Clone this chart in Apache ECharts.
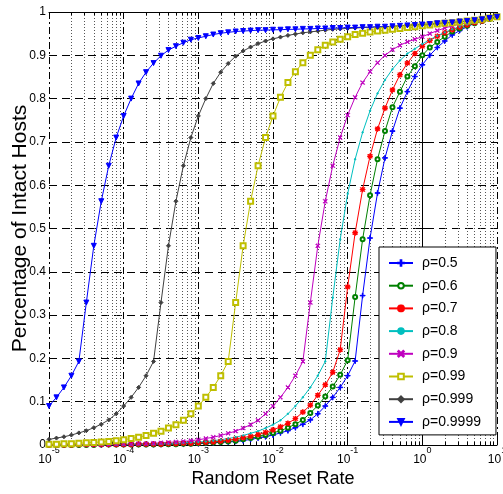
<!DOCTYPE html>
<html>
<head>
<meta charset="utf-8">
<script src="https://cdn.jsdelivr.net/npm/echarts@6/dist/echarts.min.js"></script>
<style>
  html, body { margin: 0; padding: 0; background: #fff; }
  #chart { width: 503px; height: 494px; }
</style>
</head>
<body>
<div id="chart"></div>
<script>
// x values: random reset rate, 10 points per decade
const rates = [
  1e-5, 1.259e-5, 1.585e-5, 1.995e-5, 2.512e-5, 3.162e-5, 3.981e-5, 5.012e-5, 6.31e-5, 7.943e-5,
  1e-4, 1.259e-4, 1.585e-4, 1.995e-4, 2.512e-4, 3.162e-4, 3.981e-4, 5.012e-4, 6.31e-4, 7.943e-4,
  1e-3, 1.259e-3, 1.585e-3, 1.995e-3, 2.512e-3, 3.162e-3, 3.981e-3, 5.012e-3, 6.31e-3, 7.943e-3,
  0.01, 0.01259, 0.01585, 0.01995, 0.02512, 0.03162, 0.03981, 0.05012, 0.0631, 0.07943,
  0.1, 0.1259, 0.1585, 0.1995, 0.2512, 0.3162, 0.3981, 0.5012, 0.631, 0.7943,
  1, 1.259, 1.585, 1.995, 2.512, 3.162, 3.981, 5.012, 6.31, 7.943,
  10
]

const rho05 = [
  0.000, 0.000, 0.000, 0.000, 0.000, 0.000, 0.000, 0.000, 0.001, 0.001,
  0.001, 0.001, 0.001, 0.001, 0.001, 0.001, 0.002, 0.002, 0.002, 0.003,
  0.003, 0.004, 0.005, 0.006, 0.007, 0.008, 0.010, 0.013, 0.016, 0.019,
  0.023, 0.028, 0.033, 0.040, 0.048, 0.058, 0.072, 0.090, 0.110, 0.133,
  0.160, 0.194, 0.345, 0.478, 0.582, 0.663, 0.725, 0.778, 0.816, 0.851,
  0.878, 0.900, 0.918, 0.933, 0.947, 0.957, 0.966, 0.974, 0.980, 0.985,
  0.989
]
const rho06 = [
  0.000, 0.000, 0.000, 0.000, 0.000, 0.000, 0.000, 0.001, 0.001, 0.001,
  0.001, 0.001, 0.001, 0.001, 0.001, 0.002, 0.002, 0.002, 0.003, 0.003,
  0.004, 0.005, 0.006, 0.007, 0.008, 0.010, 0.013, 0.016, 0.019, 0.023,
  0.028, 0.033, 0.040, 0.048, 0.058, 0.074, 0.091, 0.112, 0.135, 0.162,
  0.196, 0.342, 0.475, 0.577, 0.660, 0.725, 0.780, 0.816, 0.851, 0.875,
  0.900, 0.918, 0.931, 0.943, 0.955, 0.962, 0.968, 0.974, 0.979, 0.984,
  0.989
]
const rho07 = [
  0.000, 0.000, 0.000, 0.000, 0.001, 0.001, 0.001, 0.001, 0.001, 0.001,
  0.001, 0.001, 0.002, 0.002, 0.002, 0.002, 0.003, 0.003, 0.004, 0.004,
  0.005, 0.006, 0.007, 0.009, 0.011, 0.014, 0.017, 0.020, 0.024, 0.029,
  0.035, 0.042, 0.050, 0.061, 0.076, 0.092, 0.115, 0.139, 0.168, 0.220,
  0.365, 0.490, 0.590, 0.667, 0.730, 0.778, 0.820, 0.855, 0.882, 0.904,
  0.921, 0.934, 0.944, 0.952, 0.959, 0.965, 0.970, 0.975, 0.979, 0.984,
  0.989
]
const rho08 = [
  0.000, 0.000, 0.000, 0.000, 0.001, 0.001, 0.001, 0.001, 0.001, 0.001,
  0.001, 0.001, 0.002, 0.002, 0.002, 0.003, 0.003, 0.004, 0.005, 0.006,
  0.007, 0.008, 0.010, 0.012, 0.015, 0.018, 0.022, 0.027, 0.032, 0.039,
  0.047, 0.057, 0.072, 0.090, 0.110, 0.133, 0.160, 0.193, 0.340, 0.475,
  0.580, 0.660, 0.722, 0.772, 0.812, 0.843, 0.868, 0.888, 0.904, 0.915,
  0.926, 0.936, 0.945, 0.953, 0.960, 0.966, 0.971, 0.975, 0.980, 0.984,
  0.988
]
const rho09 = [
  0.000, 0.000, 0.001, 0.001, 0.001, 0.001, 0.001, 0.001, 0.001, 0.002,
  0.002, 0.002, 0.003, 0.003, 0.004, 0.005, 0.006, 0.007, 0.008, 0.010,
  0.012, 0.015, 0.018, 0.022, 0.027, 0.032, 0.039, 0.047, 0.057, 0.072,
  0.090, 0.110, 0.133, 0.160, 0.193, 0.329, 0.460, 0.563, 0.645, 0.710,
  0.762, 0.803, 0.837, 0.862, 0.883, 0.900, 0.913, 0.923, 0.931, 0.937,
  0.943, 0.950, 0.957, 0.963, 0.968, 0.972, 0.975, 0.978, 0.981, 0.985,
  0.989
]
const rho099 = [
  0.002, 0.002, 0.003, 0.003, 0.004, 0.005, 0.006, 0.007, 0.008, 0.010,
  0.012, 0.015, 0.018, 0.022, 0.027, 0.032, 0.039, 0.047, 0.057, 0.072,
  0.090, 0.110, 0.133, 0.160, 0.193, 0.329, 0.460, 0.563, 0.645, 0.710,
  0.760, 0.803, 0.837, 0.862, 0.883, 0.900, 0.913, 0.923, 0.931, 0.937,
  0.943, 0.948, 0.951, 0.954, 0.956, 0.958, 0.960, 0.962, 0.964, 0.966,
  0.968, 0.970, 0.972, 0.974, 0.975, 0.977, 0.979, 0.981, 0.983, 0.986,
  0.989
]
const rho0999 = [
  0.013, 0.016, 0.019, 0.023, 0.028, 0.033, 0.040, 0.048, 0.058, 0.072,
  0.090, 0.110, 0.133, 0.160, 0.193, 0.329, 0.460, 0.563, 0.645, 0.710,
  0.760, 0.800, 0.835, 0.861, 0.881, 0.898, 0.910, 0.919, 0.927, 0.933,
  0.938, 0.942, 0.946, 0.949, 0.952, 0.954, 0.956, 0.958, 0.960, 0.961,
  0.962, 0.963, 0.964, 0.965, 0.965, 0.966, 0.967, 0.968, 0.969, 0.970,
  0.971, 0.972, 0.973, 0.975, 0.976, 0.977, 0.979, 0.981, 0.983, 0.986,
  0.989
]
const rho09999 = [
  0.090, 0.110, 0.133, 0.160, 0.193, 0.329, 0.460, 0.563, 0.645, 0.710,
  0.760, 0.800, 0.835, 0.861, 0.882, 0.899, 0.912, 0.921, 0.929, 0.936,
  0.940, 0.944, 0.948, 0.951, 0.953, 0.955, 0.956, 0.957, 0.958, 0.958,
  0.959, 0.959, 0.960, 0.960, 0.961, 0.961, 0.962, 0.962, 0.963, 0.963,
  0.964, 0.964, 0.965, 0.965, 0.966, 0.966, 0.967, 0.968, 0.969, 0.970,
  0.971, 0.972, 0.974, 0.975, 0.976, 0.978, 0.979, 0.981, 0.983, 0.986,
  0.989
]

const seriesNames = ['ρ=0.5', 'ρ=0.6', 'ρ=0.7', 'ρ=0.8', 'ρ=0.9', 'ρ=0.99', 'ρ=0.999', 'ρ=0.9999']
const decadeTicks = [-5, -4, -3, -2, -1, 0, 1]

const FONT = "'Liberation Sans', Arial, sans-serif"

// matlab-ish markers
const PLUS = 'path://M4.4,0H5.6V4.4H10V5.6H5.6V10H4.4V5.6H0V4.4H4.4Z'
const CROSS = 'path://M1,0L5,4L9,0L10,1L6,5L10,9L9,10L5,6L1,10L0,9L4,5L0,1Z'
const STAR = 'path://M4.4,0H5.6V4.4H10V5.6H5.6V10H4.4V5.6H0V4.4H4.4Z M1.5,0.7L5,4.2L8.5,0.7L9.3,1.5L5.8,5L9.3,8.5L8.5,9.3L5,5.8L1.5,9.3L0.7,8.5L4.2,5L0.7,1.5Z'

const styles = [
  { data: rho05, color: '#0000ff', symbol: PLUS, size: 5 },
  { data: rho06, color: '#008000', symbol: 'emptyCircle', size: 4 },
  { data: rho07, color: '#ff0000', symbol: STAR, size: 5 },
  { data: rho08, color: '#00bfbf', symbol: 'circle', size: 1.5 },
  { data: rho09, color: '#bf00bf', symbol: CROSS, size: 4 },
  { data: rho099, color: '#bfbf00', symbol: 'emptyRect', size: 5 },
  { data: rho0999, color: '#404040', symbol: 'diamond', size: 4 },
  { data: rho09999, color: '#0000ff', symbol: 'triangle', size: 5, rotate: 180 },
]

// minor ticks at 2..9 of each decade (exponent space)
const minorExp = []
for (let d = -5; d < 1; d++) {
  for (let m = 2; m <= 9; m++) minorExp.push(d + Math.log10(m))
}

const chart = echarts.init(document.getElementById('chart'))

const expAxis = { type: 'value', min: -5, max: 1, gridIndex: 0 }

const option = {
  animation: false,
  backgroundColor: '#fff',
  grid: { left: 49, right: 6, top: 12, bottom: 49, containLabel: false, outerBoundsMode: 'none' },
  legend: {
    orient: 'vertical',
    left: 379,
    top: 247,
    itemWidth: 24,
    itemHeight: 7,
    itemGap: 6.7,
    backgroundColor: '#fff',
    borderColor: '#000',
    borderWidth: 1,
    borderRadius: 0,
    padding: [8, 15, 5, 9],
    textStyle: { fontSize: 14, color: '#000', fontFamily: FONT, lineHeight: 16, padding: [0, 0, 0, 4] },
    data: seriesNames,
  },
  xAxis: [
    { type: 'log', logBase: 10, min: 1e-5, max: 10, show: false },
    {
      ...expAxis,
      position: 'bottom',
      interval: 1,
      name: 'Random Reset Rate',
      nameLocation: 'middle',
      nameGap: 25,
      nameMoveOverlap: false,
      nameTextStyle: { fontSize: 18, color: '#000', fontFamily: FONT },
      axisLine: { show: true, lineStyle: { color: '#000', width: 1 } },
      axisTick: { show: true, inside: true, length: 6, lineStyle: { color: '#000' } },
      axisLabel: {
        margin: 1,
        formatter: v => `{b|10}{s|${v}}`,
        rich: {
          b: { fontSize: 12, lineHeight: 20, verticalAlign: 'bottom', color: '#000', fontFamily: FONT },
          s: { fontSize: 9, lineHeight: 9, verticalAlign: 'top', color: '#000', fontFamily: FONT },
        },
        customValues: decadeTicks,
      },
      splitLine: { show: true, lineStyle: { color: '#000', width: 1, type: [7, 3, 2, 3] } },
    },
    {
      ...expAxis,
      position: 'bottom',
      axisLine: { show: false },
      axisTick: { show: true, inside: true, length: 3, lineStyle: { color: '#000' }, customValues: minorExp },
      axisLabel: { show: false },
      splitLine: { show: true, lineStyle: { color: '#555', width: 1, type: [1, 2] } },
    },
    {
      ...expAxis,
      position: 'top',
      interval: 1,
      axisLine: { show: true, lineStyle: { color: '#000', width: 1 } },
      axisTick: { show: true, inside: true, length: 6, lineStyle: { color: '#000' } },
      axisLabel: { show: false },
      splitLine: { show: false },
    },
    {
      ...expAxis,
      position: 'top',
      axisLine: { show: false },
      axisTick: { show: true, inside: true, length: 3, lineStyle: { color: '#000' }, customValues: minorExp },
      axisLabel: { show: false },
      splitLine: { show: false },
    },
  ],
  yAxis: [
    {
      type: 'value',
      min: 0,
      max: 1,
      interval: 0.1,
      position: 'left',
      name: 'Percentage of Intact Hosts',
      nameLocation: 'middle',
      nameGap: 18,
      nameMoveOverlap: false,
      nameTextStyle: { fontSize: 21, color: '#000', fontFamily: FONT },
      axisLine: { show: true, lineStyle: { color: '#000', width: 1 } },
      axisTick: { show: true, inside: true, length: 6, lineStyle: { color: '#000' } },
      axisLabel: {
        margin: 3,
        fontSize: 12,
        color: '#000',
        fontFamily: FONT,
        formatter: v => (v === 0 ? '0' : v >= 0.999 ? '1' : v.toFixed(1)),
      },
      splitLine: { show: true, lineStyle: { color: '#000', width: 1, type: [8, 5] } },
    },
    {
      type: 'value',
      min: 0,
      max: 1,
      interval: 0.1,
      position: 'right',
      axisLine: { show: true, lineStyle: { color: '#000', width: 1 } },
      axisTick: { show: true, inside: true, length: 6, lineStyle: { color: '#000' } },
      axisLabel: { show: false },
      splitLine: { show: false },
    },
  ],
  series: styles.map((s, i) => ({
    name: seriesNames[i],
    type: 'line',
    xAxisIndex: 0,
    yAxisIndex: 0,
    data: rates.map((r, k) => [r, s.data[k]]),
    symbol: s.symbol,
    symbolSize: s.size,
    symbolRotate: s.rotate || 0,
    showSymbol: true,
    showAllSymbol: true,
    clip: false,
    lineStyle: { color: s.color, width: 1 },
    itemStyle: { color: s.color, borderColor: s.color, borderWidth: 1 },
    emphasis: { disabled: true },
  })),
}

chart.setOption(option)
</script>
</body>
</html>
